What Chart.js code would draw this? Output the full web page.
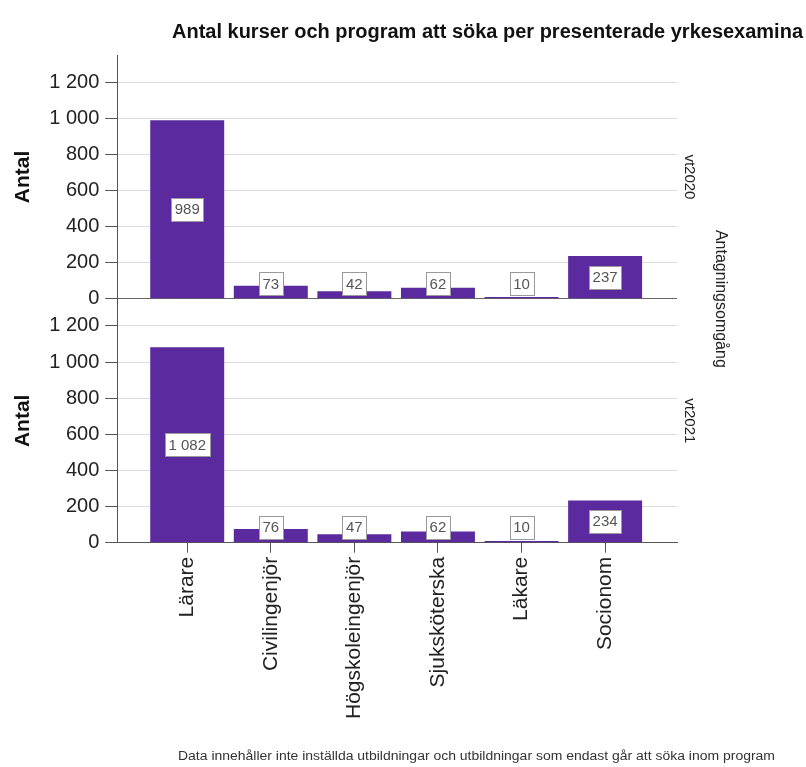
<!DOCTYPE html>
<html><head><meta charset="utf-8">
<script src="https://cdn.jsdelivr.net/npm/chart.js@4/dist/chart.umd.min.js"></script>
<style>html,body{margin:0;padding:0;background:#fff}#wrap{width:806px;height:767px;position:relative}</style>
</head><body><div id="wrap"><canvas id="c" width="806" height="767"></canvas></div>
<script>
const categories = ["Lärare","Civilingenjör","Högskoleingenjör","Sjuksköterska","Läkare","Socionom"];
const values2020 = [989,73,42,62,10,237];
const values2021 = [1082,76,47,62,10,234];
const yTicks = [0,200,400,600,800,1000,1200];
const panelLabels = ["vt2020","vt2021"];
const titleText = "Antal kurser och program att söka per presenterade yrkesexamina";
const panelAxisTitle = "Antagningsomgång";
const yTitle = "Antal";
const footnote = "Data innehåller inte inställda utbildningar och utbildningar som endast går att söka inom program";

const FONT = '"Liberation Sans", Arial, sans-serif';
const BAR = '#5a2a9e';
function fmt(v){ return String(v).replace(/\B(?=(\d{3})+(?!\d))/g,' '); }

function yAxis(){
  return {
    type:'linear', stack:'panels', stackWeight:1, position:'left',
    min:0, max:1350,
    afterBuildTicks: a => { a.ticks = yTicks.map(v=>({value:v})); },
    ticks:{ callback:v=>fmt(v), font:{family:FONT,size:20}, color:'#222', padding:6 },
    grid:{ color:c=> (c.tick && c.tick.value===0) ? '#666' : '#dcdcdc', tickColor:'#555', tickLength:12, lineWidth:1 },
    border:{ color:'#555', width:1 },
    title:{ display:true, text:yTitle, font:{family:FONT,size:21,weight:'bold'}, color:'#111', padding:{top:0,bottom:7} }
  };
}

const labelPlugin = {
  id:'labels',
  afterDatasetsDraw(chart){
    const ctx = chart.ctx;
    ctx.save();
    chart.data.datasets.forEach((ds,di)=>{
      const meta = chart.getDatasetMeta(di);
      meta.data.forEach((bar,i)=>{
        const v = ds.data[i].y;
        const base = bar.base, top = bar.y;
        const cy = Math.min((base+top)/2, base-15);
        ctx.font = '15px '+FONT;
        const txt = fmt(v);
        const w = Math.round(ctx.measureText(txt).width + 7), h = 23;
        const x0 = Math.round(bar.x - w/2)+0.5, y0 = Math.round(cy - h/2)+0.5;
        ctx.fillStyle = '#fff'; ctx.fillRect(x0, y0, w, h);
        ctx.strokeStyle = '#9a9a9a'; ctx.lineWidth = 1; ctx.strokeRect(x0, y0, w, h);
        ctx.fillStyle = '#555'; ctx.textAlign='center'; ctx.textBaseline='middle';
        ctx.fillText(txt, bar.x, cy+1);
      });
    });
    ctx.restore();
  },
  afterDraw(chart){
    const ctx = chart.ctx;
    ctx.save();
    ctx.font = 'bold 20px '+FONT;
    ctx.fillStyle = '#111'; ctx.textBaseline='middle'; ctx.textAlign='left';
    let tw = ctx.measureText(titleText).width;
    ctx.save(); ctx.translate(172, 32); ctx.scale(631/tw, 1); ctx.fillText(titleText, 0, 0); ctx.restore();
    ctx.font = '12px '+FONT; ctx.fillStyle='#333';
    tw = ctx.measureText(footnote).width;
    ctx.save(); ctx.translate(178, 757); ctx.scale(597/tw, 1); ctx.fillText(footnote, 0, 0); ctx.restore();
    const ys = [chart.scales.yTop, chart.scales.yBottom];
    ctx.textAlign='center';
    ys.forEach((s,i)=>{
      ctx.save(); ctx.translate(chart.chartArea.right + 12, (s.top+s.bottom)/2); ctx.rotate(Math.PI/2);
      ctx.font = '15px '+FONT; ctx.fillStyle='#222'; ctx.fillText(panelLabels[i],0,0); ctx.restore();
    });
    ctx.save(); ctx.translate(chart.chartArea.right + 43, (chart.chartArea.top+chart.chartArea.bottom)/2); ctx.rotate(Math.PI/2);
    ctx.font = '16px '+FONT; ctx.fillStyle='#222'; ctx.fillText(panelAxisTitle,0,0); ctx.restore();
    ctx.restore();
  }
};

new Chart(document.getElementById('c'), {
  type:'bar',
  data:{ datasets:[
    { label:panelLabels[1], data:values2021.map((v,i)=>({x:i,y:v})), yAxisID:'yBottom', backgroundColor:BAR, grouped:false, barPercentage:0.885, categoryPercentage:1 },
    { label:panelLabels[0], data:values2020.map((v,i)=>({x:i,y:v})), yAxisID:'yTop', backgroundColor:BAR, grouped:false, barPercentage:0.885, categoryPercentage:1 }
  ]},
  options:{
    responsive:false, animation:false, devicePixelRatio:1,
    layout:{ padding:{ left:11, right:129, top:55, bottom:44 } },
    plugins:{ legend:{display:false}, tooltip:{enabled:false}, title:{display:false} },
    scales:{
      x:{
        type:'linear', min:-0.837, max:5.86, offset:false,
        afterBuildTicks: a => { a.ticks = categories.map((c,i)=>({value:i})); },
        ticks:{ callback:v=>categories[v], font:{family:FONT,size:21}, color:'#222', minRotation:90, maxRotation:90, padding:4, autoSkip:false },
        grid:{ drawOnChartArea:false, offset:false, tickColor:'#555', tickLength:10 },
        border:{ color:'#555' }
      },
      yBottom: yAxis(),
      yTop: yAxis()
    }
  },
  plugins:[labelPlugin]
});
</script></body></html>
